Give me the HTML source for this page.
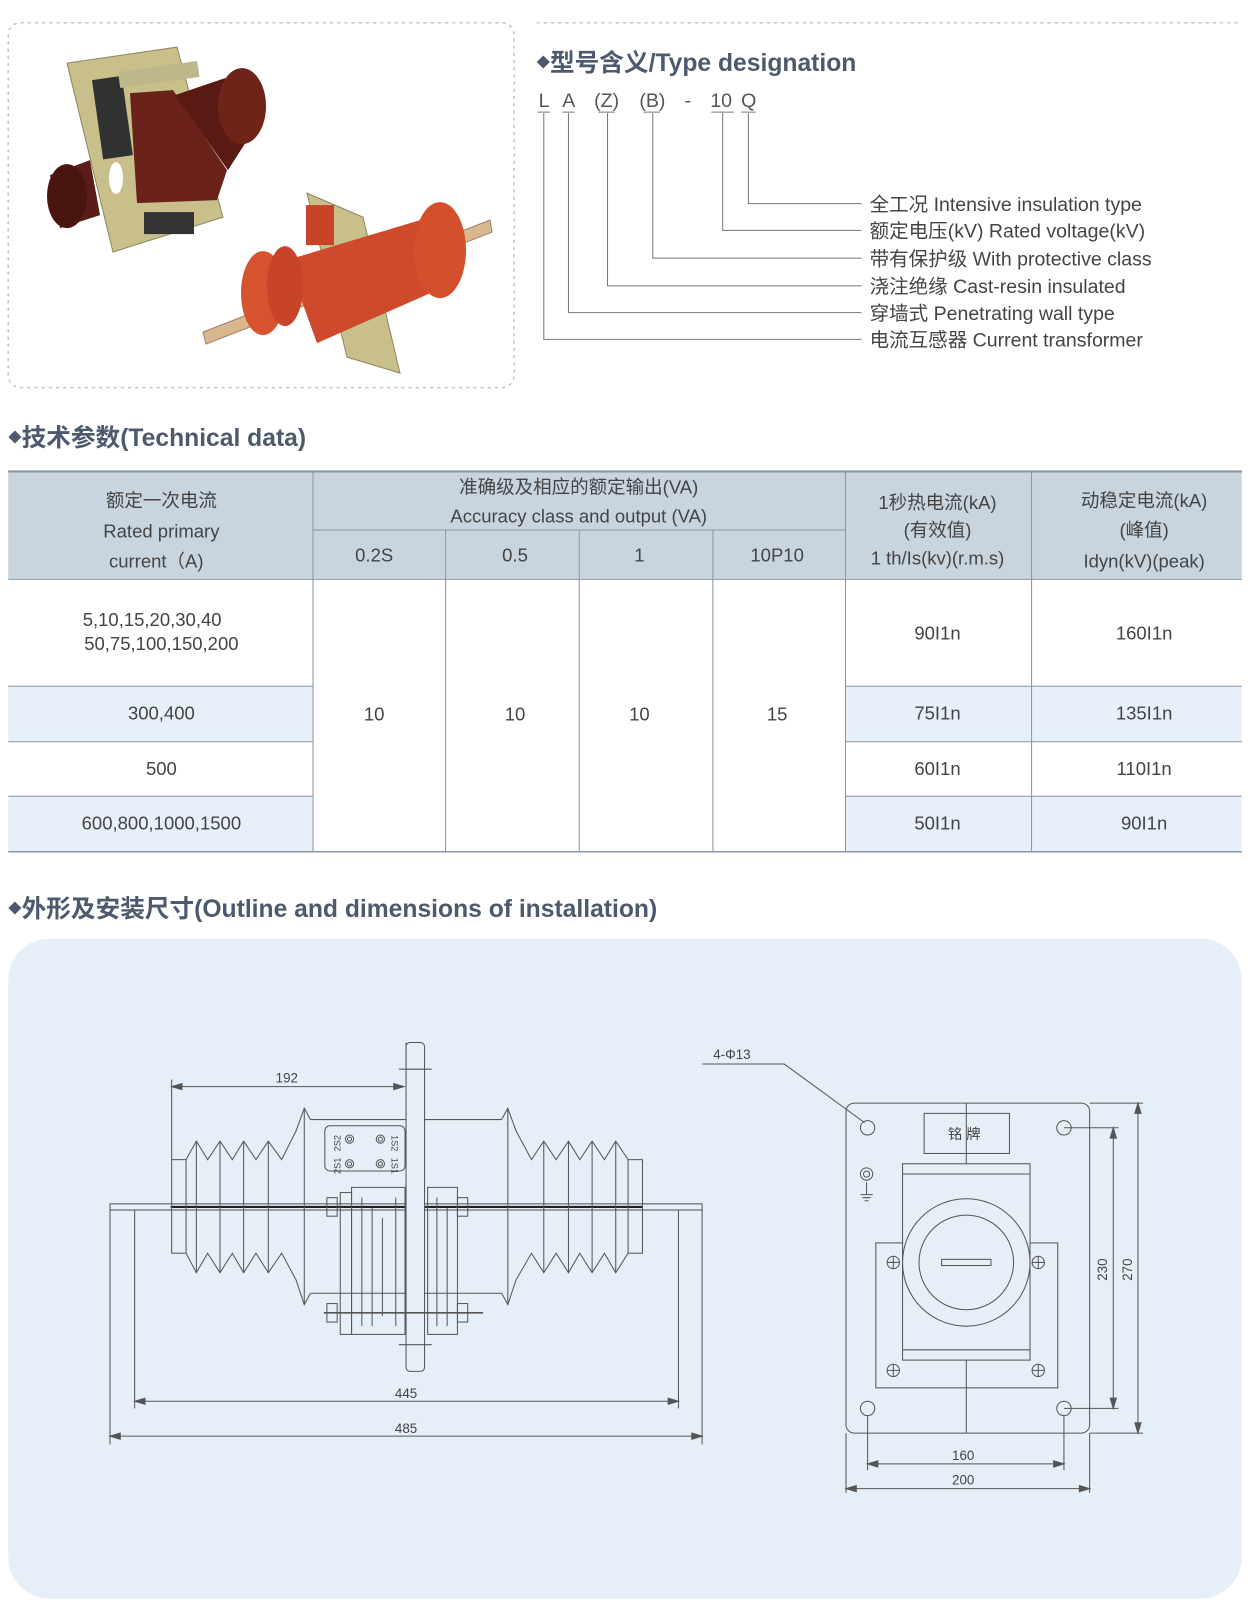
<!DOCTYPE html>
<html><head><meta charset="utf-8"><style>
html,body{margin:0;padding:0;background:#fff;}
svg{display:block;}
text{font-family:"Liberation Sans","Noto Sans CJK SC",sans-serif;}
</style></head><body>
<svg width="1250" height="1610" viewBox="0 0 1216 1566" xmlns="http://www.w3.org/2000/svg">
<rect x="8" y="22" width="492" height="355" rx="12" fill="none" stroke="#c4c4c4" stroke-width="1.5" stroke-dasharray="3,4"/>
<line x1="522" y1="22" x2="1208" y2="22" stroke="#c4c4c4" stroke-width="1.5" stroke-dasharray="3,4"/>

<g transform="scale(0.9728)">
 <polygon points="67,63 177,47 223,217 113,252" fill="#c8bf8a" stroke="#8d8660"/>
 <rect x="92" y="80" width="30" height="80" fill="#2f3230" transform="rotate(-8 92 80)"/>
 <rect x="118" y="72" width="80" height="16" fill="#bdb78a" transform="rotate(-8 118 72)"/>
 <path d="M50,175 L90,160 L100,215 L60,228 Z" fill="#5a1c16"/>
 <ellipse cx="67" cy="196" rx="20" ry="32" fill="#4a1510"/>
 <polygon points="130,93 173,90 227,170 217,200 137,203" fill="#6a221a"/>
 <path d="M175,95 L225,78 L260,120 L228,170 Z" fill="#5a1a14"/>
 <ellipse cx="242" cy="106" rx="24" ry="38" fill="#6e2419"/>
 <rect x="144" y="212" width="50" height="22" fill="#333"/>
 <ellipse cx="116" cy="178" rx="7" ry="16" fill="#fff"/>
 <polygon points="307,193 363,217 400,373 347,357" fill="#c8bf8a" stroke="#8d8660"/>
 <polygon points="203,332 490,220 492,232 206,344" fill="#d9b890" stroke="#a08060"/>
 <polygon points="287,260 430,217 453,283 317,343" fill="#cf4a2c"/>
 <ellipse cx="263" cy="293" rx="22" ry="42" fill="#d6532f"/>
 <ellipse cx="285" cy="286" rx="18" ry="40" fill="#c84428"/>
 <ellipse cx="440" cy="250" rx="26" ry="48" fill="#d4502d"/>
 <rect x="306" y="205" width="28" height="40" fill="#c84428"/>
</g>

<text x="522" y="69" font-size="24" font-weight="bold" fill="#4d5a6e"><tspan font-size="13" dy="-4">◆</tspan><tspan dy="4">型号含义/Type designation</tspan></text>
<g fill="#555" font-size="19">
<text x="524" y="104">L</text><text x="547" y="104">A</text><text x="578" y="104">(Z)</text><text x="622" y="104">(B)</text><text x="666" y="104">-</text><text x="691" y="104">10</text><text x="721" y="104">Q</text>
</g>
<g stroke="#777" stroke-width="1" fill="none">
<path d="M529,110V330H838M553,110V304H838M591,110V278H838M635,110V251H838M703,110V224H838M728,110V198H838"/>
<path d="M523,109h12M547,109h12M582,109h16M626,109h16M692,109h22M721,109h14"/>
</g>
<g fill="#444" font-size="19">
<text x="846" y="205">全工况 Intensive insulation type</text>
<text x="846" y="231">额定电压(kV) Rated voltage(kV)</text>
<text x="846" y="258">带有保护级 With protective class</text>
<text x="846" y="285">浇注绝缘 Cast-resin insulated</text>
<text x="846" y="311">穿墙式 Penetrating wall type</text>
<text x="846" y="337">电流互感器 Current transformer</text>
</g>

<text x="8" y="434" font-size="24" font-weight="bold" fill="#4d5a6e"><tspan font-size="13" dy="-4">◆</tspan><tspan dy="4">技术参数(Technical data)</tspan></text>

<rect x="8" y="458" width="1200" height="105" fill="#c8d5df"/>
<rect x="8" y="667" width="296" height="54" fill="#e7f0f8"/>
<rect x="822" y="667" width="386" height="54" fill="#e7f0f8"/>
<rect x="8" y="774" width="296" height="54" fill="#e7f0f8"/>
<rect x="822" y="774" width="386" height="54" fill="#e7f0f8"/>
<g stroke="#8a96a2" stroke-width="1" fill="none">
<line x1="8" y1="458.5" x2="1208" y2="458.5" stroke-width="2"/>
<line x1="8" y1="563.5" x2="1208" y2="563.5"/>
<line x1="304" y1="515.5" x2="822" y2="515.5"/>
<line x1="8" y1="667.5" x2="304" y2="667.5"/><line x1="822" y1="667.5" x2="1208" y2="667.5"/>
<line x1="8" y1="721.5" x2="304" y2="721.5"/><line x1="822" y1="721.5" x2="1208" y2="721.5"/>
<line x1="8" y1="774.5" x2="304" y2="774.5"/><line x1="822" y1="774.5" x2="1208" y2="774.5"/>
<line x1="8" y1="828.5" x2="1208" y2="828.5" stroke-width="1.5"/>
<line x1="304.5" y1="458" x2="304.5" y2="828"/>
<line x1="433.5" y1="515" x2="433.5" y2="828"/>
<line x1="563.5" y1="515" x2="563.5" y2="828"/>
<line x1="693.5" y1="515" x2="693.5" y2="828"/>
<line x1="822.5" y1="458" x2="822.5" y2="828"/>
<line x1="1003.5" y1="458" x2="1003.5" y2="828"/>
</g>
<g fill="#444" font-size="18" text-anchor="middle">
<text x="157" y="493">额定一次电流</text>
<text x="157" y="523">Rated primary</text>
<text x="152" y="552">current（A)</text>
<text x="563" y="480">准确级及相应的额定输出(VA)</text>
<text x="563" y="508">Accuracy class and output (VA)</text>
<text x="364" y="546">0.2S</text><text x="501" y="546">0.5</text><text x="622" y="546">1</text><text x="756" y="546">10P10</text>
<text x="912" y="495">1秒热电流(kA)</text><text x="912" y="522">(有效值)</text><text x="912" y="549">1 th/Is(kv)(r.m.s)</text>
<text x="1113" y="493">动稳定电流(kA)</text><text x="1113" y="522">(峰值)</text><text x="1113" y="552">Idyn(kV)(peak)</text>
<text x="148" y="609">5,10,15,20,30,40</text>
<text x="157" y="632">50,75,100,150,200</text>
<text x="157" y="700">300,400</text>
<text x="157" y="754">500</text>
<text x="157" y="807">600,800,1000,1500</text>
<text x="364" y="701">10</text><text x="501" y="701">10</text><text x="622" y="701">10</text><text x="756" y="701">15</text>
<text x="912" y="622">90I1n</text><text x="1113" y="622">160I1n</text>
<text x="912" y="700">75I1n</text><text x="1113" y="700">135I1n</text>
<text x="912" y="754">60I1n</text><text x="1113" y="754">110I1n</text>
<text x="912" y="807">50I1n</text><text x="1113" y="807">90I1n</text>
</g>

<text x="8" y="892" font-size="24" font-weight="bold" fill="#4d5a6e"><tspan font-size="13" dy="-4">◆</tspan><tspan dy="4">外形及安装尺寸(Outline and dimensions of installation)</tspan></text>

<rect x="8" y="913" width="1200" height="642" rx="40" fill="#e6eff8"/>

<g stroke="#555" stroke-width="1" fill="none">
<rect x="107" y="1171" width="576" height="6" fill="#e6eff8"/>
<line x1="166" y1="1174" x2="625" y2="1174" stroke="#222" stroke-width="2"/>
<rect x="167" y="1128" width="14" height="91"/>
<rect x="611" y="1128" width="14" height="91"/>
<path d="M181,1128 L191,1110 L202,1128 L214,1110 L226,1128 L237,1110 L249,1128 L261,1110 L274,1128 L288,1100 L296,1078 L302,1089"/>
<path d="M181,1219 L191,1238 L202,1219 L214,1238 L226,1219 L237,1238 L249,1219 L261,1238 L274,1219 L288,1245 L296,1269 L302,1258"/>
<path d="M611,1128 L599,1110 L588,1128 L576,1110 L564,1128 L553,1110 L541,1128 L529,1110 L517,1128 L502,1100 L494,1078 L488,1089"/>
<path d="M611,1219 L599,1238 L588,1219 L576,1238 L564,1219 L553,1238 L541,1219 L529,1238 L517,1219 L502,1245 L494,1269 L488,1258"/>
<path d="M191,1110V1238M214,1110V1238M237,1110V1238M261,1110V1238M296,1078V1269M599,1110V1238M576,1110V1238M553,1110V1238M529,1110V1238M494,1078V1269"/>
<path d="M302,1089H488M302,1258H488"/>
<rect x="395" y="1014" width="18" height="320" rx="4" fill="#e6eff8"/>
<path d="M388,1040H420M388,1308H420"/>
<rect x="316" y="1095" width="78" height="44" rx="5"/>
<circle cx="340" cy="1108" r="4"/><circle cx="340" cy="1108" r="2"/>
<circle cx="370" cy="1108" r="4"/><circle cx="370" cy="1108" r="2"/>
<circle cx="340" cy="1132" r="4"/><circle cx="340" cy="1132" r="2"/>
<circle cx="370" cy="1132" r="4"/><circle cx="370" cy="1132" r="2"/>
<rect x="342" y="1155" width="52" height="143"/>
<rect x="331" y="1160" width="11" height="138"/>
<rect x="416" y="1155" width="29" height="143"/>
<path d="M352,1165V1290M362,1175V1290M372,1185V1280M385,1165V1290M425,1165V1290M435,1175V1290"/>
<rect x="318" y="1165" width="10" height="18"/><rect x="445" y="1165" width="10" height="18"/>
<rect x="318" y="1268" width="10" height="18"/><rect x="445" y="1268" width="10" height="18"/>
<line x1="315" y1="1277" x2="470" y2="1277" stroke-width="1.5"/>
<path d="M167,1128V1050M395,1014V1050M131,1177V1370M660,1177V1370M107,1177V1405M683,1177V1405"/>
</g>
<g fill="#555" stroke="#555" stroke-width="1">
<line x1="167" y1="1057" x2="393" y2="1057"/><path d="M393,1057l-10,-3v6z"/><path d="M167,1057l10,-3v6z"/>
<line x1="131" y1="1363" x2="660" y2="1363"/><path d="M131,1363l10,-3v6z"/><path d="M660,1363l-10,-3v6z"/>
<line x1="107" y1="1397" x2="683" y2="1397"/><path d="M107,1397l10,-3v6z"/><path d="M683,1397l-10,-3v6z"/>
</g>
<g fill="#444" font-size="13" text-anchor="middle">
<text x="279" y="1053">192</text><text x="395" y="1360">445</text><text x="395" y="1394">485</text>
<text x="712" y="1030">4-Φ13</text>
<text x="938" y="1108" font-size="14">铭 牌</text>
<text x="937" y="1420">160</text><text x="937" y="1444">200</text>
</g>
<g font-size="9" fill="#444">
<text transform="translate(331,1120) rotate(-90)">2S2</text>
<text transform="translate(331,1142) rotate(-90)">2S1</text>
<text transform="translate(381,1104) rotate(90)">1S2</text>
<text transform="translate(381,1126) rotate(90)">1S1</text>
</g>

<g stroke="#555" stroke-width="1" fill="none">
<rect x="823" y="1073" width="237" height="321" rx="8"/>
<line x1="940" y1="1073" x2="940" y2="1394"/>
<circle cx="844" cy="1097" r="7"/><circle cx="1035" cy="1097" r="7"/>
<circle cx="844" cy="1370" r="7"/><circle cx="1035" cy="1370" r="7"/>
<rect x="899" y="1083" width="83" height="39"/>
<rect x="852" y="1209" width="177" height="141"/>
<rect x="878" y="1132" width="124" height="191" fill="#e6eff8"/>
<path d="M878,1142H1002M878,1313H1002"/>
<circle cx="940" cy="1228" r="62"/><circle cx="940" cy="1228" r="46"/>
<rect x="916" y="1225" width="48" height="6"/>
<circle cx="843" cy="1142" r="6"/><circle cx="843" cy="1142" r="3"/>
<path d="M843,1150v12M837,1162h12M839,1165h8M841,1168h4"/>
<circle cx="869" cy="1228" r="6"/><path d="M863,1228h12M869,1222v12"/>
<circle cx="1010" cy="1228" r="6"/><path d="M1004,1228h12M1010,1222v12"/>
<circle cx="869" cy="1333" r="6"/><path d="M863,1333h12M869,1327v12"/>
<circle cx="1010" cy="1333" r="6"/><path d="M1004,1333h12M1010,1327v12"/>
<path d="M683,1035H763L841,1092"/>
<path d="M1060,1073H1112M1035,1097H1088M1035,1370H1088M1060,1394H1112"/>
<path d="M844,1377V1430M1035,1377V1430M823,1394V1452M1060,1394V1452"/>
</g>
<g fill="#555" stroke="#555" stroke-width="1">
<line x1="1107" y1="1073" x2="1107" y2="1394"/><path d="M1107,1073l-3,10h6z"/><path d="M1107,1394l-3,-10h6z"/>
<line x1="1083" y1="1097" x2="1083" y2="1370"/><path d="M1083,1097l-3,10h6z"/><path d="M1083,1370l-3,-10h6z"/>
<line x1="844" y1="1424" x2="1035" y2="1424"/><path d="M844,1424l10,-3v6z"/><path d="M1035,1424l-10,-3v6z"/>
<line x1="823" y1="1448" x2="1060" y2="1448"/><path d="M823,1448l10,-3v6z"/><path d="M1060,1448l-10,-3v6z"/>
</g>
<g fill="#444" font-size="13" text-anchor="middle">
<text transform="translate(1077,1235) rotate(-90)">230</text>
<text transform="translate(1101,1235) rotate(-90)">270</text>
</g>
</svg>
</body></html>
